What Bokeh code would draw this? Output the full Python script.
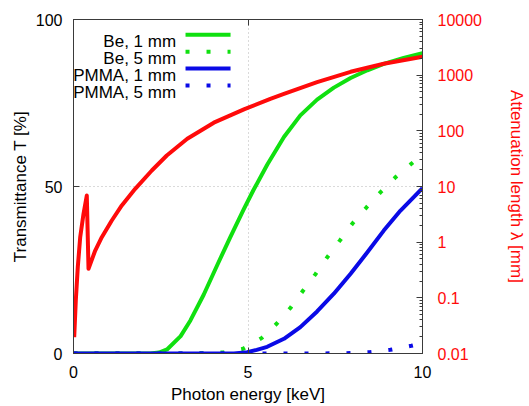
from bokeh.plotting import figure
from bokeh.models import Range1d, LogScale, LogAxis, LinearAxis, FixedTicker, Label
from bokeh.embed import file_html
from bokeh.resources import INLINE

# ---------------- data ----------------
# Transmittance [%] vs photon energy [keV]
be1_energy = [0.0, 2.2, 2.45, 2.68, 3.07, 3.35, 3.73, 4.12, 4.50, 4.88, 5.15, 5.55,
              6.03, 6.50, 6.98, 7.46, 7.94, 8.42, 8.89, 9.46, 10.0]
be1_trans = [0.0, 0.0, 0.3, 1.2, 5.2, 9.9, 17.6, 26.5, 35.0, 43.2, 48.8, 56.5,
             64.8, 71.3, 76.0, 79.6, 82.5, 84.8, 86.7, 88.5, 89.9]

be5_energy = [0.0, 3.5, 4.3, 4.86, 5.39, 5.82, 6.22, 6.57, 6.93, 7.27, 7.63, 8.00,
              8.40, 8.80, 9.23, 9.68, 10.0]
be5_trans = [0.0, 0.0, 0.3, 1.4, 4.6, 8.9, 13.7, 18.7, 23.7, 28.8, 33.8, 39.0,
             43.8, 48.3, 52.8, 56.8, 59.6]

pmma1_energy = [0.0, 4.6, 4.98, 5.25, 5.55, 6.03, 6.50, 6.98, 7.46, 7.94, 8.42,
                8.89, 9.37, 10.0]
pmma1_trans = [0.0, 0.0, 0.4, 1.1, 2.0, 4.4, 7.9, 12.6, 17.9, 23.9, 30.3,
               36.8, 42.8, 49.5]

pmma5_energy = [0.0, 7.0, 7.8, 8.48, 9.08, 9.68, 10.0]
pmma5_trans = [0.0, 0.0, 0.1, 0.4, 1.1, 2.3, 3.1]

# Attenuation length [mm] (right, log axis)
att_energy = [0.02, 0.066, 0.123, 0.192, 0.287, 0.381, 0.430, 0.622, 0.811, 1.097,
              1.384, 1.768, 2.244, 2.673, 3.26, 4.02, 4.90, 5.64, 6.03, 6.98,
              7.94, 8.89, 10.0]
att_length = [0.0196, 0.0895, 0.355, 1.23, 3.23, 6.89, 0.332, 0.708, 1.23, 2.45,
              4.56, 9.08, 19.4, 36.0, 71.9, 140.0, 245.0, 376.0, 460.0, 750.0,
              1150.0, 1600.0, 2150.0]

series_labels = ["Be, 1 mm", "Be, 5 mm", "PMMA, 1 mm", "PMMA, 5 mm"]

x_ticks = [0, 5, 10]
y_ticks = [0, 50, 100]
att_ticks = [0.01, 0.1, 1, 10, 100, 1000, 10000]
att_tick_labels = ["0.01", "0.1", "1", "10", "100", "1000", "10000"]

# ---------------- styling ----------------
FONT = "Liberation Sans"
GREEN = "#10e010"
BLUE = "#0a0ae6"
RED = "#ff0a0a"
FRAME = "#3a3a3a"
DOTS = "4 17"

p = figure(width=529, height=406, output_backend="svg", toolbar_location=None,
           x_range=Range1d(0, 10), y_range=Range1d(0, 100),
           min_border_left=73, min_border_right=107,
           min_border_top=19, min_border_bottom=53,
           background_fill_color="white", border_fill_color="white")
p.extra_y_ranges = {"lam": Range1d(0.01, 10000)}
p.extra_y_scales = {"lam": LogScale()}

p.outline_line_color = FRAME
p.outline_line_width = 1

# bottom axis
xa = p.xaxis[0]
xa.ticker = FixedTicker(ticks=x_ticks)
xa.axis_label = "Photon energy [keV]"
xa.major_label_standoff = 12
xa.axis_label_standoff = 4

# left axis
ya = p.yaxis[0]
ya.ticker = FixedTicker(ticks=y_ticks)
ya.axis_label = "Transmittance T [%]"
ya.major_label_standoff = 11
ya.axis_label_standoff = 3

for ax in (xa, ya):
    ax.major_tick_in = 6
    ax.major_tick_out = 0
    ax.minor_tick_in = 0
    ax.minor_tick_out = 0
    ax.axis_line_color = FRAME
    ax.major_tick_line_color = FRAME
    ax.major_label_text_font = FONT
    ax.major_label_text_font_size = "16px"
    ax.major_label_text_color = "black"
    ax.axis_label_text_font = FONT
    ax.axis_label_text_font_size = "17px"
    ax.axis_label_text_font_style = "normal"
    ax.axis_label_text_color = "black"

# top mirror axis (ticks only)
top = LinearAxis(ticker=FixedTicker(ticks=x_ticks), major_tick_in=6, major_tick_out=0,
                 minor_tick_in=0, minor_tick_out=0, major_label_standoff=0,
                 major_label_text_font_size="0px", major_label_text_color=None,
                 axis_line_color=FRAME, major_tick_line_color=FRAME)
p.add_layout(top, "above")

# right log axis
minor = [m * d for d in att_ticks[:-1] for m in range(2, 10)]
ra = LogAxis(y_range_name="lam",
             ticker=FixedTicker(ticks=att_ticks, minor_ticks=minor),
             major_label_overrides={t: s for t, s in zip(att_ticks, att_tick_labels)},
             axis_label="Attenuation length \u03bb [mm]",
             major_tick_in=6, major_tick_out=0, minor_tick_in=3, minor_tick_out=0,
             major_label_standoff=15, axis_label_standoff=22,
             axis_line_color=FRAME, major_tick_line_color=FRAME,
             minor_tick_line_color=FRAME,
             major_label_text_font=FONT, major_label_text_font_size="16px",
             major_label_text_color=RED,
             axis_label_text_font=FONT, axis_label_text_font_size="17px",
             axis_label_text_font_style="normal", axis_label_text_color=RED)
p.add_layout(ra, "right")

# grid
p.xgrid.ticker = FixedTicker(ticks=x_ticks)
p.ygrid.ticker = FixedTicker(ticks=y_ticks)
p.grid.grid_line_color = "#b4b4b4"
p.grid.grid_line_dash = "1 3"
p.grid.grid_line_width = 1

# ---------------- data lines ----------------
p.line(be1_energy, be1_trans, line_color=GREEN, line_width=4, line_join="round")
p.line(be5_energy, be5_trans, line_color=GREEN, line_width=4, line_dash=DOTS, line_cap="butt")
p.line(pmma1_energy, pmma1_trans, line_color=BLUE, line_width=4, line_join="round")
p.line(pmma5_energy, pmma5_trans, line_color=BLUE, line_width=4, line_dash=DOTS, line_cap="butt")
p.line(att_energy, att_length, y_range_name="lam", line_color=RED, line_width=4,
       line_join="round")

# ---------------- legend (gnuplot style: text right, key line after) ----------------
LEG_TEXT_X = 2.94
LEG_KEY_X0 = 3.21
LEG_KEY_X1 = 4.50
LEG_KEY_Y0 = 95.4
LEG_TEXT_Y0 = 93.3
LEG_STEP = 5.05
key_styles = [(GREEN, None), (GREEN, DOTS), (BLUE, None), (BLUE, DOTS)]
for i, (lab, (col, dash)) in enumerate(zip(series_labels, key_styles)):
    p.add_layout(Label(x=LEG_TEXT_X, y=LEG_TEXT_Y0 - i * LEG_STEP, text=lab,
                       text_align="right", text_baseline="alphabetic",
                       text_font=FONT, text_font_size="17px", text_color="black"))
    yk = LEG_KEY_Y0 - i * LEG_STEP
    kw = dict(line_color=col, line_width=4, line_cap="butt")
    if dash:
        kw["line_dash"] = dash
    p.line([LEG_KEY_X0, LEG_KEY_X1], [yk, yk], **kw)

open("out.html", "w").write(file_html(p, INLINE))
